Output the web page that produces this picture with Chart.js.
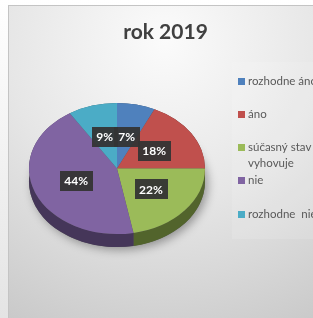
<!DOCTYPE html>
<html>
<head>
<meta charset="utf-8">
<script src="https://cdn.jsdelivr.net/npm/chart.js@4.4.1/dist/chart.umd.min.js"></script>
<style>
  html, body { margin: 0; padding: 0; background: #fff; }
  canvas { display: block; }
</style>
</head>
<body>
<canvas id="pieChart" width="313" height="318"></canvas>
<script>
// Chart data
const chartTitle = 'rok 2019';
const categories = ['rozhodne áno', 'áno', 'súčasný stav vyhovuje', 'nie', 'rozhodne  nie'];
const shares = [7, 18, 22, 44, 9];
const sliceColors = ['#4F81BD', '#C0504D', '#9BBB59', '#8064A2', '#4BACC6'];
const sideColors = ['#2c4869', '#6a2c2a', '#52642c', '#453659', '#295f6d'];

// look of the tilted pie
const squash = 0.745;
const depth = 13;

function wrapText(ctx, text, maxWidth) {
    const words = text.split(' ');
    const lines = [];
    let line = '';
    words.forEach(w => {
        const test = line ? line + ' ' + w : w;
        if (line && ctx.measureText(test).width > maxWidth) {
            lines.push(line);
            line = w;
        } else {
            line = test;
        }
    });
    lines.push(line);
    return lines;
}

const pie3d = {
    id: 'pie3d',
    beforeDraw(chart) {
        const ctx = chart.ctx;
        const w = chart.width, h = chart.height;
        ctx.save();
        // outer strip
        const outer = ctx.createLinearGradient(0, 0, 0, h);
        outer.addColorStop(0, '#ffffff');
        outer.addColorStop(1, '#e4e4e4');
        ctx.fillStyle = outer;
        ctx.fillRect(0, 0, w, h);
        // chart frame
        const bg = ctx.createRadialGradient(165, 40, 0, 165, 40, 320);
        bg.addColorStop(0, '#fbfbfb');
        bg.addColorStop(0.5, '#e6e6e6');
        bg.addColorStop(1, '#c9c9c9');
        ctx.fillStyle = bg;
        ctx.fillRect(8, 5, w - 8, h - 5);
        ctx.strokeStyle = '#c4c4c4';
        ctx.lineWidth = 1;
        ctx.strokeRect(8.5, 5.5, w, h);
        // legend box
        ctx.fillStyle = 'rgba(255,255,255,0.12)';
        ctx.fillRect(232, 62, w - 232, 177);
        // title
        ctx.fillStyle = '#404040';
        ctx.font = 'bold 21px Lato';
        ctx.textAlign = 'center';
        ctx.textBaseline = 'middle';
        ctx.fillText(chartTitle, 165.5, 32);
        ctx.restore();
    },
    beforeDatasetsDraw(chart) {
        const ctx = chart.ctx;
        const arcs = chart.getDatasetMeta(0).data;
        const cx = arcs[0].x, cy = arcs[0].y, r = arcs[0].outerRadius;
        const ry = r * squash;
        // soft shadow under the pie
        ctx.save();
        ctx.shadowColor = 'rgba(0,0,0,0.35)';
        ctx.shadowBlur = 10;
        ctx.shadowOffsetX = 3;
        ctx.shadowOffsetY = 3;
        ctx.fillStyle = '#555';
        ctx.beginPath();
        ctx.ellipse(cx, cy + depth, r, ry, 0, 0, Math.PI * 2);
        ctx.fill();
        ctx.restore();
        // sides
        arcs.forEach((arc, i) => {
            ctx.fillStyle = sideColors[i];
            ctx.beginPath();
            ctx.ellipse(cx, cy, r, ry, 0, arc.startAngle, arc.endAngle, false);
            ctx.ellipse(cx, cy + depth, r, ry, 0, arc.endAngle, arc.startAngle, true);
            ctx.closePath();
            ctx.fill();
        });
        // squash the top face
        ctx.save();
        ctx.translate(cx, cy);
        ctx.scale(1, squash);
        ctx.translate(-cx, -cy);
    },
    afterDatasetsDraw(chart) {
        const ctx = chart.ctx;
        ctx.restore();
        const arcs = chart.getDatasetMeta(0).data;
        const values = chart.data.datasets[0].data;

        // data labels
        ctx.save();
        ctx.font = 'bold 12px Lato';
        ctx.textAlign = 'center';
        ctx.textBaseline = 'middle';
        arcs.forEach((arc, i) => {
            const mid = (arc.startAngle + arc.endAngle) / 2;
            const x = arc.x + Math.cos(mid) * arc.outerRadius * 0.5;
            const y = arc.y + Math.sin(mid) * arc.outerRadius * 0.5 * squash;
            const text = values[i] + '%';
            const bw = ctx.measureText(text).width + 9;
            ctx.fillStyle = 'rgba(52,52,52,0.95)';
            ctx.fillRect(Math.round(x - bw / 2), Math.round(y - 10), Math.round(bw), 20);
            ctx.fillStyle = '#ffffff';
            ctx.fillText(text, x, y + 0.5);
        });
        ctx.restore();

        // legend
        ctx.save();
        ctx.font = '11.5px Lato';
        ctx.textAlign = 'left';
        ctx.textBaseline = 'middle';
        chart.data.labels.forEach((name, i) => {
            const y = 81 + i * 33.25;
            ctx.fillStyle = sliceColors[i];
            ctx.fillRect(238, Math.round(y - 3.5), 7, 7);
            ctx.fillStyle = '#595959';
            wrapText(ctx, name, 78).forEach((line, j) => {
                ctx.fillText(line, 248, y + j * 16);
            });
        });
        ctx.restore();
    }
};

document.addEventListener('DOMContentLoaded', function() {
    const ctx = document.getElementById('pieChart').getContext('2d');
    new Chart(ctx, {
        type: 'pie',
        data: {
            labels: categories,
            datasets: [{
                data: shares,
                backgroundColor: sliceColors,
                borderWidth: 0,
                radius: 88,
                clip: false
            }]
        },
        options: {
            responsive: false,
            animation: false,
            layout: {
                padding: { left: 29, right: 108, top: 81, bottom: 62 }
            },
            plugins: {
                legend: { display: false },
                title: { display: false },
                tooltip: { enabled: false }
            }
        },
        plugins: [pie3d]
    });
});
</script>
</body>
</html>
